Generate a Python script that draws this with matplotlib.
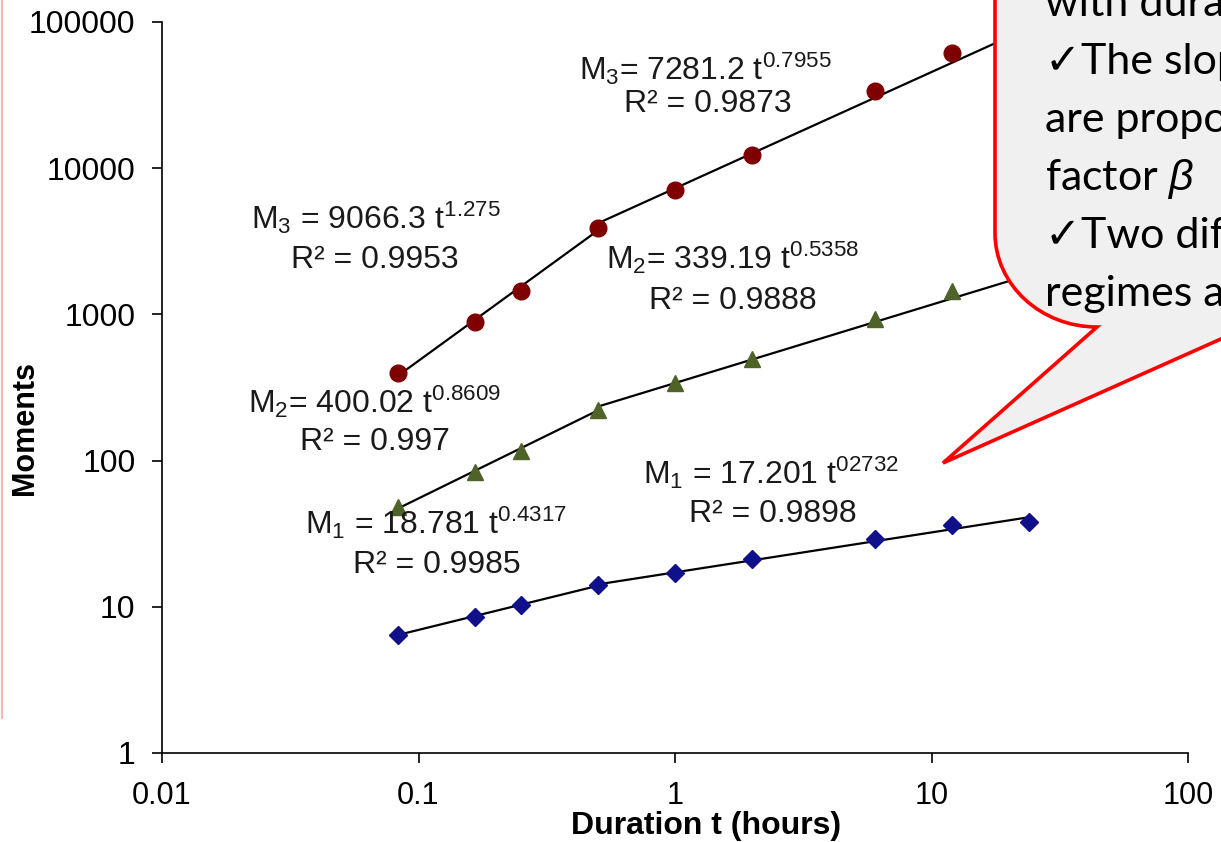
import numpy as np
import matplotlib
matplotlib.use("Agg")
import matplotlib.pyplot as plt
from matplotlib.path import Path
from matplotlib.patches import PathPatch

plt.rcParams['font.family'] = ['Liberation Sans', 'DejaVu Sans']
plt.rcParams['mathtext.fontset'] = 'custom'
plt.rcParams['mathtext.rm'] = 'Liberation Sans'
plt.rcParams['mathtext.it'] = 'Liberation Sans:italic'

# durations (hours) and moments
t = [1/12, 1/6, 0.25, 0.5, 1, 2, 6, 12, 24]
m1 = [6.4, 8.5, 10.3, 14.1, 17.0, 21.2, 29.1, 36.3, 38.0]
m2 = [48, 84, 116, 222, 340, 495, 930, 1445, 1800]
m3 = [400, 887, 1445, 3900, 7100, 12300, 33500, 61000, 90000]

# power-law fits (coef, exponent, t_start, t_end)
fits_m1 = [(18.781, 0.4317, 1/12, 0.5), (17.201, 0.2732, 0.5, 24)]
fits_m2 = [(400.02, 0.8609, 1/12, 0.5), (339.19, 0.5358, 0.5, 24)]
fits_m3 = [(9066.3, 1.275, 1/12, 0.5), (7281.2, 0.7955, 0.5, 24)]

xticks = [0.01, 0.1, 1, 10, 100]
xlabels = ['0.01', '0.1', '1', '10', '100']
yticks = [1, 10, 100, 1000, 10000, 100000]
ylabels = ['1', '10', '100', '1000', '10000', '100000']

callout_lines = ['with duration', '\u2713The slopes', 'are proportional',
                 r'factor $\beta$', '\u2713Two different', 'regimes are']

W, H = 1221, 842
fig = plt.figure(figsize=(W / 100, H / 100), dpi=100)
ax = fig.add_axes([162 / W, 1 - 753 / H, (1188 - 162) / W, (753 - 22) / H])

ax.set_xscale('log')
ax.set_yscale('log')
ax.set_xlim(0.01, 100)
ax.set_ylim(1, 100000)

series = [(m3, fits_m3, 'o', '#7f0000', 12),
          (m2, fits_m2, '^', '#4f6228', 12),
          (m1, fits_m1, 'D', '#10108a', 9.5)]
for vals, fits, mk, col, ms in series:
    for a, b, t0, t1 in fits:
        tt = np.logspace(np.log10(t0), np.log10(t1), 20)
        ax.plot(tt, a * tt ** b, color='black', lw=1.6, zorder=2)
    ax.plot(t, vals, ls='none', marker=mk, color=col, ms=ms, zorder=3)

for s in ['top', 'right']:
    ax.spines[s].set_visible(False)
ax.spines['left'].set_linewidth(1.2)
ax.spines['bottom'].set_linewidth(1.2)
ax.minorticks_off()
ax.set_xticks(xticks)
ax.set_xticklabels(xlabels)
ax.set_yticks(yticks)
ax.set_yticklabels(ylabels)
ax.tick_params(axis='both', direction='out', length=7, width=1.2, labelsize=22)
ax.tick_params(axis='y', labelsize=23, pad=12)
ax.tick_params(axis='x', pad=13)
ax.set_xlabel('Duration t (hours)', fontsize=23, fontweight='bold')
ax.xaxis.set_label_coords(0.530, -0.080)
ax.set_ylabel('Moments', fontsize=22, fontweight='bold')
ax.yaxis.set_label_coords(-0.119, 0.445)

# overlay in pixel coordinates for annotations and callout
ov = fig.add_axes([0, 0, 1, 1])
ov.set_xlim(0, W)
ov.set_ylim(H, 0)
ov.axis('off')

labels = [
    (705, 80, r'M$_3$= 7281.2 t$^{0.7955}$', 708, 112, 'R² = 0.9873'),
    (376, 229, r'M$_3$ = 9066.3 t$^{1.275}$', 375, 268, 'R² = 0.9953'),
    (733, 269, r'M$_2$= 339.19 t$^{0.5358}$', 733, 309, 'R² = 0.9888'),
    (375, 413, r'M$_2$= 400.02 t$^{0.8609}$', 375, 450, 'R² = 0.997'),
    (771, 484, r'M$_1$ = 17.201 t$^{02732}$', 773, 522, 'R² = 0.9898'),
    (436, 534, r'M$_1$ = 18.781 t$^{0.4317}$', 437, 573, 'R² = 0.9985'),
]
for x1, y1, s1, x2, y2, s2 in labels:
    ov.text(x1, y1, s1, ha='center', va='baseline', fontsize=23, color='#1a1a1a')
    ov.text(x2, y2, s2, ha='center', va='baseline', fontsize=23, color='#1a1a1a')

# pink line at the left edge
ov.plot([2, 2], [0, 718], color='#ffb3b3', lw=1.5)

# speech bubble callout
verts = [(995, -20), (995, 233), (995, 285), (1041, 327), (1097, 327),
         (943, 463), (1250, 326), (1250, -20), (995, -20)]
codes = [Path.MOVETO, Path.LINETO, Path.CURVE4, Path.CURVE4, Path.CURVE4,
         Path.LINETO, Path.LINETO, Path.LINETO, Path.CLOSEPOLY]
ov.add_patch(PathPatch(Path(verts, codes), facecolor='#f0f0f0', edgecolor='#ff0000',
                       lw=2.6, joinstyle='miter', zorder=5))
for i, line in enumerate(callout_lines):
    ov.text(1045, 16 + 58 * i, line, ha='left', va='baseline', fontsize=31,
            family=['Lato', 'DejaVu Sans'], color='black', zorder=6)

fig.savefig('out.png', dpi=100)
